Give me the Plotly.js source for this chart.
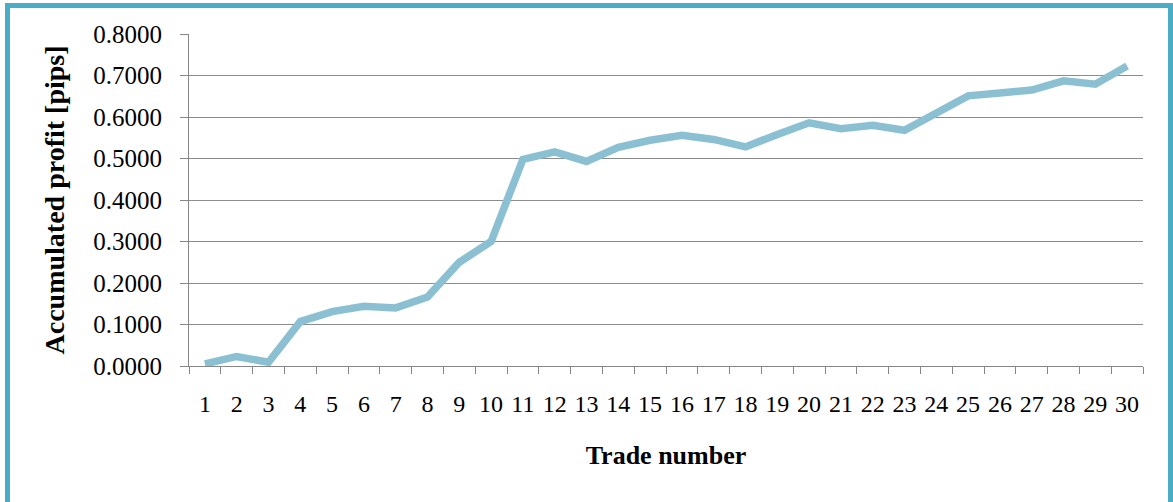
<!DOCTYPE html>
<html>
<head>
<meta charset="utf-8">
<script src="https://cdn.plot.ly/plotly-3.0.1.min.js"></script>
<style>
  html, body { margin: 0; padding: 0; background: #ffffff; }
  #wrap { position: relative; width: 1173px; height: 502px; overflow: hidden; }
  #chart { position: absolute; left: 0; top: 0; width: 1173px; height: 502px; }
  #frame { position: absolute; left: 5px; top: 3px; width: 1158px; height: 600px;
           border: 5px solid #4BACC6; pointer-events: none; box-sizing: content-box; }
</style>
</head>
<body>
<div id="wrap">
  <div id="chart"></div>
  <div id="frame"></div>
</div>
<script>
// Data
const tradeNumbers = ['1','2','3','4','5','6','7','8','9','10','11','12','13','14','15',
                      '16','17','18','19','20','21','22','23','24','25','26','27','28','29','30'];
const accumulatedProfit = [0.005, 0.023, 0.009, 0.107, 0.131, 0.144, 0.140, 0.166, 0.250, 0.300,
                           0.498, 0.516, 0.493, 0.527, 0.544, 0.556, 0.546, 0.528, 0.558, 0.586,
                           0.572, 0.580, 0.568, 0.612, 0.651, 0.658, 0.665, 0.687, 0.679, 0.723];
const yTickValues = [0, 0.1, 0.2, 0.3, 0.4, 0.5, 0.6, 0.7, 0.8];
const yTickLabels = ['0.0000','0.1000','0.2000','0.3000','0.4000','0.5000','0.6000','0.7000','0.8000'];

const serif = 'Liberation Serif';

const trace = {
  type: 'scatter',
  mode: 'lines',
  x: tradeNumbers,
  y: accumulatedProfit,
  line: { color: '#8BC0D3', width: 7.5, shape: 'linear' },
  hoverinfo: 'x+y'
};

const layout = {
  width: 1173,
  height: 502,
  margin: { l: 189, r: 30, t: 34, b: 136 },
  paper_bgcolor: 'rgba(0,0,0,0)',
  plot_bgcolor: '#ffffff',
  showlegend: false,
  font: { family: serif, color: '#000000' },
  xaxis: {
    type: 'category',
    range: [-0.5, tradeNumbers.length - 0.5],
    tickson: 'boundaries',
    tickangle: 0,
    ticks: 'outside',
    ticklen: 7,
    tickcolor: '#868686',
    showgrid: false,
    showline: true,
    linecolor: '#868686',
    linewidth: 1,
    tickfont: { family: serif, size: 24, color: '#000000' },
    ticklabelstandoff: 16,
    title: { text: 'Trade number', font: { family: serif, size: 26, color: '#000000', weight: 'bold' }, standoff: 30 },
    automargin: false,
    fixedrange: true
  },
  yaxis: {
    range: [0, 0.8],
    tickvals: yTickValues,
    ticktext: yTickLabels,
    ticks: 'outside',
    ticklen: 8,
    tickcolor: '#868686',
    showgrid: true,
    gridcolor: '#8C8C8C',
    gridwidth: 1,
    zeroline: false,
    showline: true,
    linecolor: '#868686',
    linewidth: 1,
    tickfont: { family: serif, size: 25, color: '#000000' },
    ticklabelstandoff: 13,
    title: { text: 'Accumulated profit [pips]', font: { family: serif, size: 28, color: '#000000', weight: 'bold' }, standoff: 20 },
    automargin: false,
    fixedrange: true
  }
};

Plotly.newPlot('chart', [trace], layout, { displayModeBar: false, staticPlot: true });
</script>
</body>
</html>
